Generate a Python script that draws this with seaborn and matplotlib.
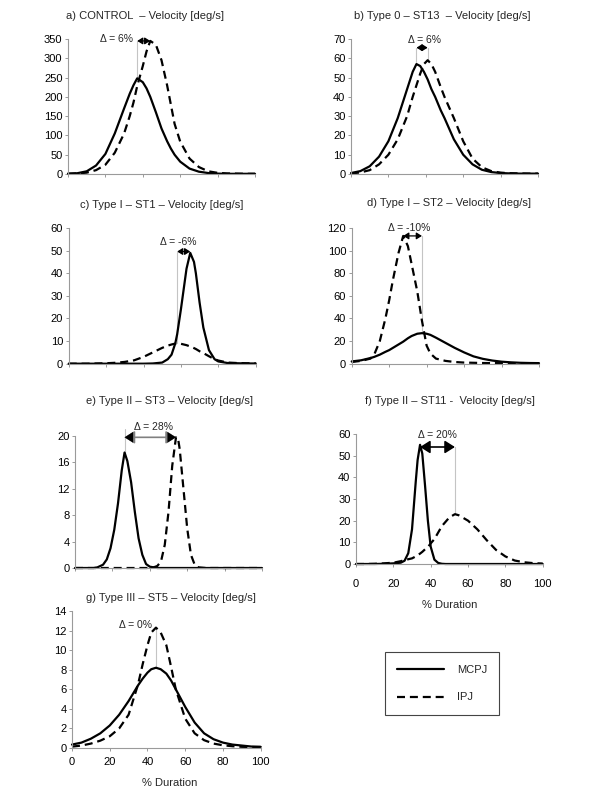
import numpy as np
import pandas as pd
import matplotlib
matplotlib.use("Agg")
import matplotlib.pyplot as plt
from matplotlib.lines import Line2D
import seaborn as sns

sns.set_theme(style="white")
plt.rcParams["font.family"] = ["Liberation Sans", "DejaVu Sans"]

# ---------------- data ----------------
A_X = [0, 5, 10, 15, 20, 25, 30, 33, 35, 37, 40, 42, 44, 47, 50, 53, 55, 57, 60, 65, 70, 75, 80, 85, 90, 95, 100]
A_MCPJ = [1, 2, 7, 22, 52, 105, 170, 208, 230, 248, 238, 222, 200, 160, 118, 85, 66, 50, 32, 14, 6, 2.5, 1, 0.5, 0.5, 0.5, 0.5]
A_IPJ = [0.5, 1.5, 3.5, 10, 24, 55, 105, 150, 185, 228, 280, 318, 345, 335, 295, 230, 180, 130, 84, 40, 18, 7, 3, 1.5, 1, 0.5, 0.5]

B_X = [0, 5, 10, 15, 20, 25, 30, 33, 35, 37, 39, 41, 43, 45, 48, 50, 55, 60, 65, 70, 75, 80, 85, 90, 95, 100]
B_MCPJ = [0.5, 1.5, 4, 9, 17, 29, 44, 53, 57, 56, 53, 49, 44, 40, 33, 29, 18, 10, 5, 2.2, 1, 0.5, 0.3, 0.2, 0.2, 0.2]
B_IPJ = [0.3, 0.8, 2, 5, 10, 18, 30, 40, 46, 52, 57, 59, 57, 53, 45, 40, 29, 17, 8, 3.5, 1.5, 0.7, 0.4, 0.3, 0.2, 0.2]

C_X = [0, 5, 10, 15, 20, 25, 30, 35, 40, 45, 50, 53, 55, 57, 58, 60, 62, 63, 65, 67, 68, 70, 72, 75, 78, 80, 85, 90, 95, 100]
C_MCPJ = [0, 0, 0, 0, 0, 0, 0, 0, 0, 0.1, 0.5, 2, 4, 9, 13, 24, 36, 42, 49, 45, 40, 27, 16, 6, 2, 1, 0.3, 0.2, 0.1, 0.1]
C_IPJ = [0, 0, 0, 0.1, 0.2, 0.4, 0.8, 1.5, 3, 5, 7, 8, 8.5, 8.9, 9, 8.8, 8.4, 8.2, 7.6, 6.9, 6.5, 5.5, 4.7, 3.3, 2, 1.4, 0.5, 0.3, 0.2, 0.2]

D_X = [0, 5, 10, 12, 15, 18, 20, 22, 25, 27.5, 30, 32, 35, 37.5, 40, 42, 45, 50, 55, 60, 65, 70, 75, 80, 85, 90, 95, 100]
D_MCPJ = [2, 3, 5, 6, 8, 10.5, 12, 14, 17, 19.5, 22.5, 24.5, 26.5, 27, 26.5, 25.5, 23, 18.5, 14, 10, 6.5, 4.3, 2.8, 1.8, 1.2, 0.8, 0.6, 0.5]
D_IPJ = [1.5, 2.5, 4.5, 8, 20, 40, 56, 74, 98, 113, 104, 88, 64, 38, 16, 9, 4.5, 2.5, 1.5, 1, 0.8, 0.6, 0.5, 0.5, 0.5, 0.5, 0.5, 0.5]

E_X = [0, 5, 10, 12, 15, 17, 19, 21, 23, 25, 26.5, 28, 30, 32, 34, 36, 38, 40, 42, 44, 46, 48, 50, 52, 54, 55, 56, 58, 60, 62, 64, 66, 70, 75, 80, 85, 90, 95, 100]
E_MCPJ = [0, 0, 0, 0.1, 0.5, 1.3, 3, 5.8, 9.8, 14.8, 17.5, 16.2, 13, 8.5, 4.5, 2, 0.6, 0.2, 0.1, 0, 0, 0, 0, 0, 0, 0, 0, 0, 0, 0, 0, 0, 0, 0, 0, 0, 0, 0, 0]
E_IPJ = [0, 0, 0, 0, 0, 0, 0, 0, 0, 0, 0, 0, 0, 0, 0, 0, 0, 0, 0.1, 0.3, 1, 3.5, 8.5, 15.5, 19.8, 19.8, 18, 12, 6, 2, 0.5, 0.1, 0, 0, 0, 0, 0, 0, 0]

F_X = [0, 5, 10, 15, 20, 24, 26, 28, 30, 32, 33, 34.3, 35.5, 37, 38.5, 40, 42, 44, 46, 48, 50, 53, 55, 60, 65, 70, 75, 80, 85, 90, 95, 100]
F_MCPJ = [0, 0, 0, 0.1, 0.3, 0.6, 1.5, 5, 16, 38, 48, 55, 51, 36, 20, 8, 2, 0.5, 0.1, 0, 0, 0, 0, 0, 0, 0, 0, 0, 0, 0, 0, 0]
F_IPJ = [0, 0, 0.1, 0.3, 0.6, 1.3, 1.8, 2.2, 2.6, 3.5, 4, 4.8, 5.6, 6.8, 7.8, 9.5, 11.5, 14.5, 17.5, 19.5, 21.5, 23, 22.5, 20, 16, 11, 6.5, 3.5, 1.6, 0.8, 0.4, 0.2]

G_X = [0, 5, 10, 15, 20, 25, 30, 35, 37.5, 40, 42, 44.5, 47, 50, 52.5, 55, 60, 65, 70, 75, 80, 85, 90, 95, 100]
G_MCPJ = [0.35, 0.55, 0.95, 1.5, 2.3, 3.4, 4.8, 6.4, 7.1, 7.7, 8.05, 8.2, 8.05, 7.6, 6.9, 6.0, 4.2, 2.6, 1.5, 0.9, 0.55, 0.35, 0.25, 0.15, 0.12]
G_IPJ = [0.14, 0.25, 0.45, 0.75, 1.2, 2.0, 3.4, 6.5, 8.6, 10.5, 11.8, 12.3, 11.8, 10.5, 8.3, 6.0, 3.0, 1.5, 0.8, 0.45, 0.28, 0.18, 0.12, 0.1, 0.1]

SERIES = ["MCPJ", "IPJ"]
TITLES = [
    "a) CONTROL  \u2013 Velocity [deg/s]",
    "b) Type 0 \u2013 ST13  \u2013 Velocity [deg/s]",
    "c) Type I \u2013 ST1 \u2013 Velocity [deg/s]",
    "d) Type I \u2013 ST2 \u2013 Velocity [deg/s]",
    "e) Type II \u2013 ST3 \u2013 Velocity [deg/s]",
    "f) Type II \u2013 ST11 -  Velocity [deg/s]",
    "g) Type III \u2013 ST5 \u2013 Velocity [deg/s]",
]
DELTA_LABELS = ["\u0394 = 6%", "\u0394 = 6%", "\u0394 = -6%", "\u0394 = -10%", "\u0394 = 28%", "\u0394 = 20%", "\u0394 = 0%"]
Y_MAX = [350, 70, 60, 120, 20, 60, 14]
Y_STEP = [50, 10, 10, 20, 4, 10, 2]
X_TICKS = [0, 20, 40, 60, 80, 100]

DATA = [
    (A_X, A_MCPJ, A_IPJ), (B_X, B_MCPJ, B_IPJ), (C_X, C_MCPJ, C_IPJ),
    (D_X, D_MCPJ, D_IPJ), (E_X, E_MCPJ, E_IPJ), (F_X, F_MCPJ, F_IPJ),
    (G_X, G_MCPJ, G_IPJ),
]

# ---------------- layout ----------------
W, H = 600, 800
fig = plt.figure(figsize=(6, 8), dpi=100)

# axes boxes in pixels: left, right, top, bottom
BOXES = [
    (68, 255, 39, 174), (351, 538, 39, 174),
    (68.7, 255.7, 228, 363.7), (351.7, 539, 228, 363.7),
    (75, 262, 436, 568), (356, 542.7, 434, 564),
    (72, 260.7, 611, 748),
]
TITLE_POS = [(145, 16), (442, 16), (162, 205), (449, 203), (169, 401), (450, 401), (171, 598)]
SHOW_XLAB = [False, False, False, False, False, True, True]
XLAB_POS = {5: (450, 605), 6: (170, 783)}
XTICK_PAD = {5: 8.5, 6: 4.0}

ANN = [
    dict(ay=345, tx=35, ty=349, ha="right", guide=[0], big=False, arrow=True),
    dict(ay=65.5, tx=39.3, ty=69.5, ha="center", guide=[0, 1], big=False, arrow=True),
    dict(ay=49.6, tx=58.4, ty=53.6, ha="center", guide=[1], big=False, arrow=True),
    dict(ay=113, tx=30.6, ty=120, ha="center", guide=[0], big=False, arrow=True),
    dict(ay=19.8, tx=42.2, ty=21.3, ha="center", guide=[0], big=True, arrow=True),
    dict(ay=54, tx=43.8, ty=59.5, ha="center", guide=[1], big=True, arrow=True),
    dict(ay=12.3, tx=42.2, ty=12.6, ha="right", guide=[0], big=False, arrow=False),
]

DASH = (0, (3.6, 2.2))
GRAY = "#9a9a9a"
SMALL_HEAD = "<|-|>,head_length=0.32,head_width=0.2"
BIG_HEAD = "<|-|>,head_length=0.6,head_width=0.38"

for i, (x, m, p) in enumerate(DATA):
    l, r, t, b = BOXES[i]
    ax = fig.add_axes([l / W, 1 - b / H, (r - l) / W, (b - t) / H])
    df = pd.DataFrame({"x": x, "MCPJ": m, "IPJ": p})
    sns.lineplot(data=df, x="x", y="MCPJ", ax=ax, color="black", lw=1.6,
                 estimator=None, sort=False, clip_on=False)
    sns.lineplot(data=df, x="x", y="IPJ", ax=ax, color="black", lw=1.6,
                 linestyle=DASH, estimator=None, sort=False, clip_on=False)
    ax.set_xlim(0, 100)
    ax.set_ylim(0, Y_MAX[i])
    ax.set_xticks(X_TICKS)
    ax.set_yticks(np.arange(0, Y_MAX[i] + 0.001, Y_STEP[i]))
    ax.set_xlabel("")
    ax.set_ylabel("")
    for s in ["top", "right"]:
        ax.spines[s].set_visible(False)
    for s in ["left", "bottom"]:
        ax.spines[s].set_color(GRAY)
        ax.spines[s].set_linewidth(0.8)
    ax.tick_params(axis="y", direction="out", length=2.5, width=0.7, color=GRAY,
                   pad=1.5, labelsize=8, labelcolor="black", left=True)
    if SHOW_XLAB[i]:
        ax.tick_params(axis="x", direction="out", length=2.5, width=0.7, color=GRAY,
                       pad=XTICK_PAD[i], labelsize=8, labelcolor="black", bottom=True)
        xx, yy = XLAB_POS[i]
        fig.text(xx / W, 1 - yy / H, "% Duration", ha="center", va="center", fontsize=8)
    else:
        ax.tick_params(axis="x", direction="out", length=2.5, width=0.7, color=GRAY,
                       labelbottom=False, bottom=True)
    ax.patch.set_alpha(0)

    tx, ty = TITLE_POS[i]
    fig.text(tx / W, 1 - ty / H, TITLES[i], ha="center", va="center", fontsize=8)

    # delta annotation computed from the curves' peaks
    xs = np.array(x, dtype=float)
    series = [np.array(m, dtype=float), np.array(p, dtype=float)]
    peaks = [(xs[np.argmax(s)], s.max()) for s in series]
    a = ANN[i]
    for g in a["guide"]:
        px_, py_ = peaks[g]
        top = a["ay"] if a["arrow"] else peaks[1][1]
        if i == 4:
            top = a["ay"] + 1.2
        ax.plot([px_, px_], [py_, top], color="#c4c4c4", lw=0.8, zorder=1, clip_on=False)
    if a["arrow"]:
        x0, x1 = peaks[0][0], peaks[1][0]
        if a["big"]:
            style = BIG_HEAD
            col = "#808080" if i == 4 else "black"
            lw = 1.2
        else:
            style = SMALL_HEAD
            col = "black"
            lw = 0.9
        ax.annotate("", xy=(x1, a["ay"]), xytext=(x0, a["ay"]),
                    arrowprops=dict(arrowstyle=style, color=col, lw=lw,
                                    shrinkA=0, shrinkB=0, mutation_scale=10),
                    annotation_clip=False)
        if i == 4:
            head = "-|>,head_length=0.6,head_width=0.38"
            for xe, d in ((x1, -0.01), (x0, 0.01)):
                ax.annotate("", xy=(xe, a["ay"]), xytext=(xe + d, a["ay"]),
                            arrowprops=dict(arrowstyle=head, color="black", lw=0.1,
                                            shrinkA=0, shrinkB=0, mutation_scale=10),
                            annotation_clip=False)
    ax.text(a["tx"], a["ty"], DELTA_LABELS[i], ha=a["ha"], va="center", fontsize=7.5,
            clip_on=False)

# legend
handles = [Line2D([], [], color="black", lw=1.6),
           Line2D([], [], color="black", lw=1.6, linestyle=DASH)]
leg = fig.legend(handles, SERIES, loc="center", bbox_to_anchor=(442 / W, 1 - 683.5 / H),
                 bbox_transform=fig.transFigure, frameon=True, fancybox=False,
                 edgecolor="#444444", fontsize=8, handlelength=4.2, handletextpad=1.2,
                 labelspacing=1.6, borderpad=1.1, framealpha=1)
leg.get_frame().set_linewidth(0.8)

fig.savefig("out.png", dpi=100, facecolor="white")
